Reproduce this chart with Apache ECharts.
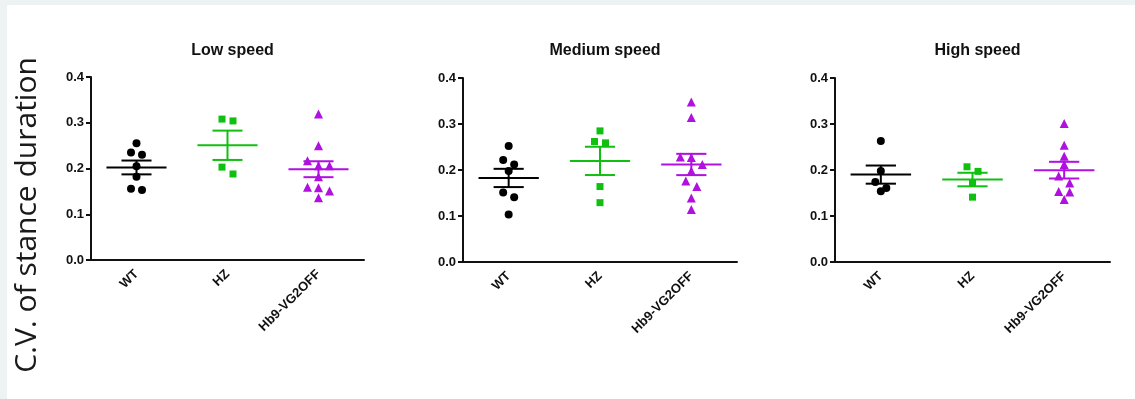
<!DOCTYPE html>
<html>
<head>
<meta charset="utf-8">
<script src="https://cdn.jsdelivr.net/npm/echarts@6/dist/echarts.min.js"></script>
<style>
  html, body { margin: 0; padding: 0; width: 1135px; height: 399px; background: #edf2f2; overflow: hidden; }
  #sheet { position: absolute; left: 7px; top: 5px; right: 0; bottom: 0; background: #ffffff; }
  #chart { position: absolute; left: 0; top: 0; width: 1135px; height: 399px; }
</style>
</head>
<body>
<div id="sheet"></div>
<div id="chart"></div>
<script>
// Genotype groups and speed conditions
const categories = ['WT', 'HZ', 'Hb9-VG2OFF'];
const panelTitles = ['Low speed', 'Medium speed', 'High speed'];
const yAxisTitle = 'C.V. of stance duration';

// Coefficient of variation of stance duration, one value per animal
const lowWT  = [0.255, 0.235, 0.230, 0.205, 0.182, 0.156, 0.153];
const lowHZ  = [0.308, 0.304, 0.203, 0.188];
const lowHb9 = [0.319, 0.250, 0.217, 0.206, 0.206, 0.182, 0.159, 0.158, 0.151, 0.136];

const medWT  = [0.252, 0.222, 0.212, 0.198, 0.151, 0.141, 0.103];
const medHZ  = [0.285, 0.262, 0.259, 0.164, 0.129];
const medHb9 = [0.348, 0.314, 0.228, 0.227, 0.212, 0.198, 0.176, 0.164, 0.139, 0.114];

const highWT  = [0.263, 0.198, 0.174, 0.161, 0.154];
const highHZ  = [0.207, 0.197, 0.172, 0.141];
const highHb9 = [0.301, 0.254, 0.230, 0.212, 0.187, 0.172, 0.153, 0.152, 0.136];

const panelData = [
  [lowWT, lowHZ, lowHb9],
  [medWT, medHZ, medHb9],
  [highWT, highHZ, highHb9]
];

// Styling
const groupColors = ['#000000', '#10c010', '#b010e0'];
const groupSymbols = ['circle', 'rect', 'triangle'];
const groupSymbolSizes = [8, 7, 9];
const grids = [
  { left: 91,  top: 77, width: 273, height: 183 },
  { left: 463, top: 78, width: 274, height: 184 },
  { left: 835, top: 78, width: 275, height: 184 }
];
const Y_MAX = 0.4;
const MEAN_HALF = 0.33;   // half-width of the mean line, in category units
const CAP_HALF = 0.165;   // half-width of the SEM caps

function mean(a) { return a.reduce((s, v) => s + v, 0) / a.length; }
function sem(a) {
  const m = mean(a);
  const sd = Math.sqrt(a.reduce((s, v) => s + (v - m) * (v - m), 0) / (a.length - 1));
  return sd / Math.sqrt(a.length);
}

// Spread points that share a row (similar value) symmetrically around the column centre
function swarm(values, pxPerValue, pxPerCat) {
  const rowTol = 7.5 / pxPerValue;
  const spacing = 11 / pxPerCat;
  const order = values.map((v, i) => i).sort((a, b) => values[b] - values[a]);
  const offsets = new Array(values.length).fill(0);
  let row = [];
  const flush = () => {
    row.forEach((idx, j) => { offsets[idx] = (j - (row.length - 1) / 2) * spacing; });
    row = [];
  };
  order.forEach(idx => {
    if (row.length && values[row[0]] - values[idx] >= rowTol) flush();
    row.push(idx);
  });
  flush();
  return offsets;
}

const fontFamily = '"Liberation Sans", Arial, sans-serif';
const title = [], grid = [], xAxis = [], yAxis = [], series = [];

panelData.forEach((groups, p) => {
  const g = grids[p];
  grid.push({ left: g.left, top: g.top, width: g.width, height: g.height, containLabel: false });
  title.push({
    text: panelTitles[p],
    left: g.left + g.width / 2,
    top: 38,
    textAlign: 'center',
    textStyle: { fontFamily, fontSize: 16, fontWeight: 'bold', color: '#111' }
  });
  // visible category axis
  xAxis.push({
    type: 'category', gridIndex: p, data: categories, boundaryGap: true,
    axisLine: { onZero: false, lineStyle: { color: '#111', width: 2 } },
    axisTick: { alignWithLabel: true, length: 5, lineStyle: { color: '#111', width: 2 } },
    axisLabel: { rotate: 45, margin: 12, fontFamily, fontSize: 13, fontWeight: 'bold', color: '#111', interval: 0 },
    splitLine: { show: false }
  });
  // hidden numeric axis used to place the jittered points
  xAxis.push({ type: 'value', gridIndex: p, min: -0.5, max: 2.5, show: false, axisLine: { onZero: false } });
  yAxis.push({
    type: 'value', gridIndex: p, min: 0, max: Y_MAX, interval: 0.1,
    axisLine: { show: true, onZero: false, lineStyle: { color: '#111', width: 2 } },
    axisTick: { show: true, length: 5, lineStyle: { color: '#111', width: 2 } },
    axisLabel: { formatter: v => v.toFixed(1), margin: 7, fontFamily, fontSize: 13, fontWeight: 'bold', color: '#111' },
    splitLine: { show: false }
  });

  const pxPerValue = g.height / Y_MAX;
  const pxPerCat = g.width / categories.length;

  groups.forEach((vals, i) => {
    const offs = swarm(vals, pxPerValue, pxPerCat);
    series.push({
      type: 'scatter', xAxisIndex: p * 2 + 1, yAxisIndex: p,
      symbol: groupSymbols[i], symbolSize: groupSymbolSizes[i],
      itemStyle: { color: groupColors[i], opacity: 1 },
      silent: true, z: 2,
      data: vals.map((v, k) => [i + offs[k], v])
    });
  });

  series.push({
    type: 'custom', xAxisIndex: p * 2 + 1, yAxisIndex: p, silent: true, z: 3,
    encode: { x: 0, y: 1 },
    data: groups.map((vals, i) => [i, mean(vals), sem(vals)]),
    renderItem: (params, api) => {
      const i = api.value(0), m = api.value(1), s = api.value(2);
      const style = { stroke: groupColors[i], lineWidth: 2 };
      const seg = (x1, y1, x2, y2) => {
        const a = api.coord([x1, y1]), b = api.coord([x2, y2]);
        return { type: 'line', shape: { x1: a[0], y1: a[1], x2: b[0], y2: b[1] }, style };
      };
      return {
        type: 'group',
        children: [
          seg(i - MEAN_HALF, m, i + MEAN_HALF, m),
          seg(i - CAP_HALF, m + s, i + CAP_HALF, m + s),
          seg(i - CAP_HALF, m - s, i + CAP_HALF, m - s),
          seg(i, m - s, i, m + s)
        ]
      };
    }
  });
});

const chart = echarts.init(document.getElementById('chart'), null, { renderer: 'canvas' });
chart.setOption({
  animation: false,
  backgroundColor: 'transparent',
  title, grid, xAxis, yAxis, series,
  graphic: [{
    type: 'text',
    x: 27, y: 215, rotation: Math.PI / 2,
    style: {
      text: yAxisTitle, fill: '#1a1a1a',
      font: '30px "Open Sans", sans-serif',
      textAlign: 'center', textVerticalAlign: 'middle'
    }
  }]
});
</script>
</body>
</html>
